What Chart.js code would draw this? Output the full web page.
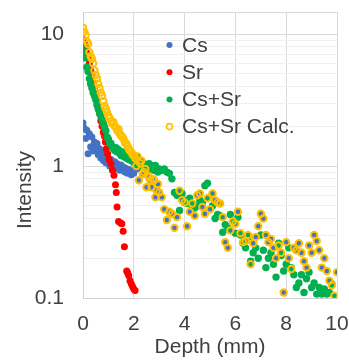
<!DOCTYPE html>
<html>
<head>
<meta charset="utf-8">
<script src="https://cdn.jsdelivr.net/npm/chart.js@4.4.1/dist/chart.umd.min.js"></script>
<style>
  html, body { margin: 0; padding: 0; background: #fff; }
  canvas { display: block; }
</style>
</head>
<body>
<canvas id="chart" width="349" height="360"></canvas>
<script>
// depth grid (mm) shared by Cs, Cs+Sr and Cs+Sr Calc.
const depth = [0,0.05,0.1,0.15,0.2,0.25,0.3,0.35,0.4,0.45,0.5,0.55,0.6,0.65,0.7,0.75,0.8,0.85,0.9,0.95,
  1,1.05,1.1,1.15,1.2,1.25,1.3,1.35,1.4,1.45,1.5,1.55,1.6,1.65,1.7,1.75,1.8,1.85,1.9,1.95,
  2,2.05,2.1,2.15,2.2,2.25,2.3,2.35,2.4,2.45,2.5,2.55,2.6,2.65,2.7,2.75,2.8,2.85,2.9,2.95,3,
  3.1,3.2,3.3,3.4,3.5,3.6,3.7,3.8,3.9,4,4.1,4.2,4.3,4.4,4.5,4.6,4.7,4.8,4.9,5,
  5.1,5.2,5.3,5.4,5.5,5.6,5.7,5.8,5.9,6,6.1,6.2,6.3,6.4,6.5,6.6,6.7,6.8,6.9,7,
  7.1,7.2,7.3,7.4,7.5,7.6,7.7,7.8,7.9,8,8.1,8.2,8.3,8.4,8.5,8.6,8.7,8.8,8.9,9,
  9.1,9.2,9.3,9.4,9.5,9.6,9.7,9.8,9.9,10];

const csVals = [2.12,1.93,1.62,1.87,1.24,1.76,1.4,1.66,1.3,1.52,1.36,1.48,1.22,1.35,1.15,1.26,1.1,1.2,1.06,1.17,
  1.1,1.0,1.12,0.97,1.05,1.08,0.96,1.04,1.0,0.93,1.02,0.95,0.98,0.9,0.96,0.88,0.94,0.9,0.86,0.92,
  0.88,1.1,0.95,1.18,0.78,1.05,1.1,0.87,0.9,0.95,0.69,0.85,0.82,0.78,0.69,0.8,0.78,0.58,0.65,0.73,0.63,
  0.58,0.47,0.39,0.45,0.435,0.34,0.41,0.65,0.55,0.53,0.35,0.45,0.52,0.42,0.6,0.62,0.49,0.435,0.57,0.47,
  0.62,0.55,0.53,0.52,0.41,0.265,0.24,0.325,0.38,0.365,0.45,0.31,0.265,0.27,0.3,0.18,0.26,0.29,0.35,0.435,
  0.4,0.3,0.265,0.28,0.24,0.2,0.25,0.22,0.11,0.265,0.2,0.166,0.24,0.23,0.26,0.22,0.19,0.17,0.25,0.22,
  0.3,0.27,0.23,0.17,0.2,0.16,0.135,0.125,0.104,0.157];

const mixVals = [8.2,7.4,6.6,5.6,5.2,4.6,4.2,3.9,3.6,3.4,3.2,2.9,2.7,2.55,2.4,2.25,2.1,1.98,1.85,1.66,
  1.6,1.5,1.48,1.4,1.35,1.31,1.38,1.28,1.33,1.25,1.2,1.28,1.18,1.24,1.15,1.22,1.12,1.18,1.1,1.15,
  1.06,1.12,1.04,1.08,1.0,1.04,0.97,1.0,1.04,0.96,1.0,0.92,1.04,0.97,0.95,1.0,0.93,1.01,0.96,0.9,0.95,
  0.93,0.95,0.9,0.88,0.8,0.63,0.6,0.46,0.62,0.55,0.52,0.57,0.5,0.48,0.5,0.55,0.53,0.71,0.74,0.58,
  0.5,0.4,0.43,0.42,0.315,0.36,0.34,0.43,0.38,0.31,0.41,0.3,0.26,0.24,0.29,0.19,0.22,0.24,0.2,0.3,
  0.23,0.17,0.2,0.22,0.18,0.144,0.26,0.21,0.16,0.18,0.24,0.17,0.15,0.12,0.13,0.15,0.11,0.14,0.157,0.12,
  0.13,0.107,0.12,0.107,0.117,0.107,0.11,0.128,0.103,0.1];

const calcVals = [11.2,10.4,9.8,8.8,8.4,7.3,6.8,6.5,6.0,5.3,4.9,4.6,4.2,3.9,3.6,3.4,3.1,2.85,2.7,2.55,
  2.4,2.3,2.2,2.1,2.15,2.0,1.95,1.85,1.9,1.75,1.7,1.66,1.6,1.5,1.48,1.42,1.35,1.3,1.28,1.22,
  1.2,1.15,1.0,1.18,0.78,1.05,1.1,0.87,0.9,0.95,0.69,0.85,0.82,0.78,0.69,0.8,0.78,0.58,0.65,0.73,0.63,
  0.58,0.47,0.39,0.45,0.435,0.34,0.41,0.65,0.55,0.53,0.35,0.45,0.52,0.42,0.6,0.62,0.49,0.435,0.57,0.47,
  0.62,0.55,0.53,0.52,0.41,0.265,0.24,0.325,0.38,0.365,0.45,0.31,0.265,0.27,0.3,0.18,0.26,0.29,0.35,0.435,
  0.4,0.3,0.265,0.28,0.24,0.2,0.25,0.22,0.11,0.265,0.2,0.166,0.24,0.23,0.26,0.22,0.19,0.17,0.25,0.22,
  0.3,0.27,0.23,0.17,0.2,0.16,0.135,0.125,0.104,0.157];

// Sr only measured down to ~2 mm
const srDepth = [0,0.05,0.1,0.15,0.2,0.25,0.3,0.35,0.4,0.45,0.5,0.55,0.6,0.65,0.7,0.75,0.8,0.85,0.88,0.92,
  0.97,1.03,1.1,1.16,1.22,1.28,1.31,1.34,1.4,1.48,1.53,1.58,1.63,1.72,1.76,1.8,1.85,1.9,1.95,2,2.05];
const srVals = [9.1,8.5,8.0,7.2,6.7,6.0,5.3,4.8,4.3,3.9,3.5,3.1,2.8,2.5,2.2,2.0,1.8,1.68,1.52,1.35,
  1.24,1.12,1.04,0.93,0.85,0.72,0.63,0.49,0.38,0.37,0.365,0.32,0.245,0.16,0.155,0.148,0.135,0.128,0.122,0.117,0.114];

const seriesNames = ['Cs', 'Sr', 'Cs+Sr', 'Cs+Sr Calc.'];
const xTicks = [0, 2, 4, 6, 8, 10];
const yTickLabels = [0.1, 1, 10];
const yMax = 14.7;
// light minor grid lines between decades
const yMinor = [0.2,0.3,0.4,0.5,0.6,0.7,0.8,0.9,2,3,4,5,6,7,8,9];

const TEXT = '#404040';
const FONT = '"Liberation Sans", Arial, sans-serif';
const FSIZE = 21;
Chart.defaults.font.family = FONT;
Chart.defaults.font.size = FSIZE;
Chart.defaults.color = TEXT;

const pts = (xs, ys) => xs.map((x, i) => ({ x: x, y: ys[i] }));

// draws y title + legend inside plot
const overlay = {
  id: 'overlay',
  afterDraw(chart) {
    const ctx = chart.ctx;
    ctx.save();
    ctx.font = FSIZE + 'px ' + FONT;
    ctx.textBaseline = 'middle';
    ctx.fillStyle = TEXT;

    ctx.save();
    ctx.translate(25, 190);
    ctx.rotate(-Math.PI / 2);
    ctx.textAlign = 'center';
    ctx.fillText('Intensity', 0, 0);
    ctx.restore();

    chart.data.datasets.forEach((ds, i) => {
      const y = 45 + i * 27.2;
      ctx.beginPath();
      ctx.arc(169.5, y, 3, 0, Math.PI * 2);
      if (ds.hollow) {
        ctx.strokeStyle = ds.borderColor;
        ctx.lineWidth = 1.6;
        ctx.stroke();
      } else {
        ctx.fillStyle = ds.backgroundColor;
        ctx.fill();
      }
      ctx.fillStyle = TEXT;
      ctx.textAlign = 'left';
      ctx.fillText(ds.label, 182, y + 1);
    });
    ctx.restore();
  }
};

new Chart(document.getElementById('chart'), {
  type: 'scatter',
  data: {
    datasets: [
      { label: seriesNames[0], data: pts(depth, csVals), backgroundColor: '#4472C4', borderWidth: 0, pointRadius: 3.5, order: 4 },
      { label: seriesNames[1], data: pts(srDepth, srVals), backgroundColor: '#FF0000', borderWidth: 0, pointRadius: 3.5, order: 3 },
      { label: seriesNames[2], data: pts(depth, mixVals), backgroundColor: '#00B050', borderWidth: 0, pointRadius: 3.7, order: 2 },
      { label: seriesNames[3], data: pts(depth, calcVals), backgroundColor: 'rgba(0,0,0,0)', borderColor: '#FFC000',
        borderWidth: 2, pointRadius: 3.2, order: 1, hollow: true }
    ]
  },
  options: {
    responsive: false,
    animation: false,
    devicePixelRatio: 1,
    layout: { padding: { top: 12, right: 12, left: 0, bottom: 0 } },
    plugins: { legend: { display: false }, tooltip: { enabled: false } },
    scales: {
      x: {
        type: 'linear',
        min: 0, max: 10,
        afterFit: s => { s.height = 62; s.paddingLeft = 0; s.paddingRight = 0; },
        afterBuildTicks: axis => { axis.ticks = xTicks.map(v => ({ value: v })); },
        ticks: { padding: 14, color: TEXT, font: { size: FSIZE } },
        grid: { color: '#d9d9d9', drawTicks: false },
        border: { color: '#d0d0d0' },
        title: { display: true, text: 'Depth (mm)', color: TEXT, font: { size: FSIZE }, padding: { top: 0, bottom: 0 } }
      },
      y: {
        type: 'logarithmic',
        min: 0.1, max: yMax,
        afterFit: s => { s.width = 83; s.paddingTop = 0; s.paddingBottom = 0; },
        afterBuildTicks: axis => {
          const vals = yTickLabels.concat(yMinor, [yMax]).sort((a, b) => a - b);
          axis.ticks = vals.map(v => ({ value: v }));
        },
        ticks: {
          autoSkip: false,
          padding: 19,
          color: TEXT,
          font: { size: FSIZE },
          callback: v => (yTickLabels.includes(v) ? String(v) : '')
        },
        grid: {
          drawTicks: false,
          color: c => (c.tick && yMinor.includes(c.tick.value) ? '#f0f0f0' : '#d9d9d9')
        },
        border: { color: '#d0d0d0' }
      }
    }
  },
  plugins: [overlay]
});
</script>
</body>
</html>
